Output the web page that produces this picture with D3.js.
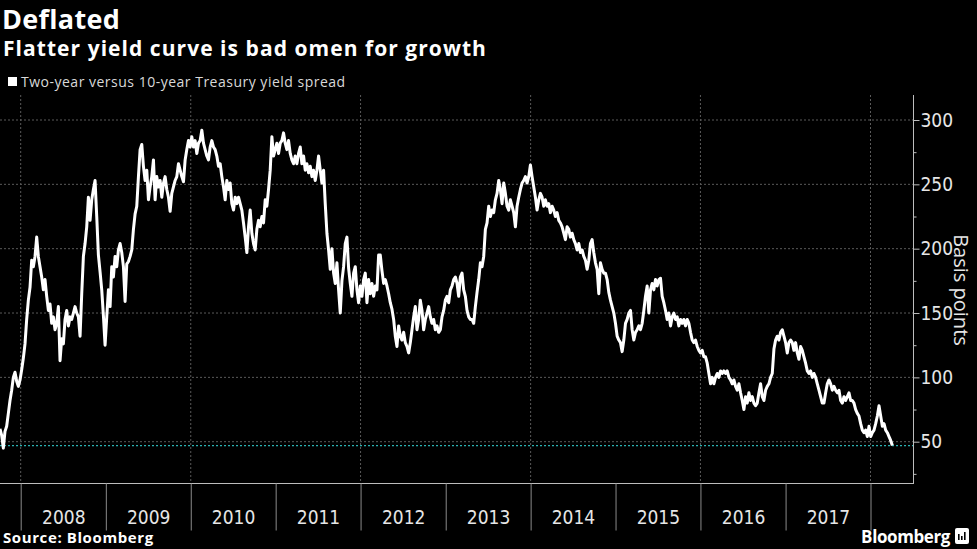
<!DOCTYPE html>
<html><head><meta charset="utf-8">
<script src="https://cdn.jsdelivr.net/npm/d3@7"></script>
<style>html,body{margin:0;padding:0;background:#000;} svg{display:block;}</style>
</head><body>
<svg id="chart" width="977" height="549"></svg>
<script>
// ---------- data ----------
const titleText = "Deflated";
const subtitleText = "Flatter yield curve is bad omen for growth";
const seriesName = "Two-year versus 10-year Treasury yield spread";
const yAxisTitle = "Basis points";
const sourceText = "Source: Bloomberg";
const brandText = "Bloomberg";
const yearLabels = ["2008","2009","2010","2011","2012","2013","2014","2015","2016","2017"];
const yTickValues = [50, 100, 150, 200, 250, 300];
const yMinorTickValues = [25, 75, 125, 175, 225, 275];
const gridYears = [2008, 2010, 2012, 2014, 2016, 2018];
const separatorYears = [2008, 2009, 2010, 2011, 2012, 2013, 2014, 2015, 2016, 2017, 2018];
const firstObservation = "2007-10-04";
const observationStepDays = 7.17;
const spread = [
 60,55,45,58,62,72,82,90,100,104, 97,93,98,106,115,126,145,160,170,191,
 186,194,209,194,186,178,168,176,163,152, 157,142,147,137,142,155,113,130,126,145,
 152,140,147,145,150,155,150,147,132,165, 194,204,217,240,222,238,246,253,225,195,
 182,168,148,125,147,168,155,186,178,194, 186,199,204,197,186,159,188,190,194,199,
 215,227,233,256,277,281,264,253,261,238, 248,
 256,269,238,256,248,253,240,251,256,246, 240,229,243,248,253,256,266,261,256,252,
 269,277,284,279,287,279,284,274,282,284, 292,282,277,272,269,279,284,279,277,272,
 264,266,256,248,238,253,246,251,235,230, 240,235,240,235,230,220,209,197,217,230,
 212,204,199,215,222,217,225,220,238,233, 246,261,287,272,277,282,274,282,284,290,
 282,277,284,274,269,266,272,
 266,274,279,266,272,261,266,259,264,256, 261,253,261,272,261,251,261,235,212,199,
 184,200,181,173,189,168,150,175,186,204, 209,185,173,163,181,186,168,158,171,163,
 176,181,158,176,165,173,163,171,168,195, 195,183,173,176,171,165,158,153,145,132,
 124,140,132,129,135,127,124,119,127,137, 147,155,137,145,160,152,137,145,150,155,
 147,142,145,137,140,135,137,
 147,152,160,163,158,168,171,176,178,173, 163,178,181,168,163,152,147,145,145,142,
 155,166,176,189,186,194,215,220,233,225, 230,228,238,243,253,246,235,251,243,233,
 230,238,233,228,217,233,240,246,251,253, 256,251,256,265,256,248,240,230,238,243,
 240,233,238,233,235,228,233,230,225,228, 222,220,217,212,207,217,215,209,212,207,
 204,199,204,197,199,194,191,
 184,191,204,207,197,189,184,165,189,184, 181,181,176,166,160,155,150,142,132,129,
 127,120,129,142,145,150,152,137,129,135, 137,140,137,142,152,163,171,150,168,173,
 168,176,171,176,177,163,158,152,145,150, 140,147,150,145,147,140,145,142,145,140,
 145,142,135,129,127,129,124,121,119,121, 116,116,111,103,95,100,95,100,103,100,
 105,103,105,103,105,100,98,
 95,98,93,90,95,88,82,75,85,80, 88,82,85,80,78,80,88,95,85,82,
 90,93,95,100,103,122,129,132,129,135, 137,132,127,119,127,129,127,121,127,119,
 114,124,121,116,111,105,103,105,100,103, 100,95,90,85,80,80,88,95,98,95,
 90,93,90,88,90,82,80,85,82,85, 88,82,82,80,75,72,70,64,59,57,
 59,54,62,54,57,59,64,70,78,70, 62,64,59,57,54,51,47
];

// ---------- layout ----------
const W = 977, H = 549;
const plotLeft = 0, plotRight = 913, plotTop = 95, plotBottom = 483;
const svg = d3.select("#chart");
svg.append("rect").attr("width", W).attr("height", H).attr("fill", "#000");

const parse = d3.utcParse("%Y-%m-%d");
const t0 = parse(firstObservation);
const data = spread.map((v, i) => ({ date: new Date(t0.getTime() + i * observationStepDays * 864e5), value: v }));

const x = d3.scaleUtc()
  .domain([new Date(Date.UTC(2008, 0, 1)), new Date(Date.UTC(2018, 0, 1))])
  .range([20.7, 870.5]);
const y = d3.scaleLinear().domain([50, 300]).range([441.7, 120]);

const gridColor = "#5a5a5a";
// horizontal grid
svg.append("g").selectAll("line").data(yTickValues).join("line")
  .attr("x1", plotLeft).attr("x2", plotRight)
  .attr("y1", d => y(d)).attr("y2", d => y(d))
  .attr("stroke", gridColor).attr("stroke-width", 1).attr("stroke-dasharray", "2,2");
// vertical grid
svg.append("g").selectAll("line").data(gridYears).join("line")
  .attr("x1", d => x(new Date(Date.UTC(d, 0, 1)))).attr("x2", d => x(new Date(Date.UTC(d, 0, 1))))
  .attr("y1", plotTop).attr("y2", plotBottom)
  .attr("stroke", gridColor).attr("stroke-width", 1).attr("stroke-dasharray", "2,2");

// last value marker line
const lastVal = spread[spread.length - 1];
svg.append("line")
  .attr("x1", plotLeft).attr("x2", plotRight)
  .attr("y1", y(lastVal)).attr("y2", y(lastVal))
  .attr("stroke", "#2bb3b3").attr("stroke-width", 1.3).attr("stroke-dasharray", "2,2");

// series line
svg.append("path").datum(data)
  .attr("fill", "none").attr("stroke", "#ffffff").attr("stroke-width", 3)
  .attr("stroke-linejoin", "round")
  .attr("d", d3.line().x(d => x(d.date)).y(d => y(d.value)));

// axes lines
const axisColor = "#bdbdbd";
svg.append("line").attr("x1", plotLeft).attr("x2", plotRight).attr("y1", plotBottom + 0.5).attr("y2", plotBottom + 0.5)
  .attr("stroke", axisColor).attr("stroke-width", 1);
svg.append("line").attr("x1", plotRight + 0.5).attr("x2", plotRight + 0.5).attr("y1", plotTop).attr("y2", plotBottom + 1)
  .attr("stroke", axisColor).attr("stroke-width", 1);

// right axis
const yAxis = d3.axisRight(y).tickValues(yTickValues).tickSize(6).tickPadding(1).tickFormat(d3.format("d"));
const ya = svg.append("g").attr("transform", `translate(${plotRight + 0.5},0)`).call(yAxis);
ya.select(".domain").remove();
ya.selectAll("line").attr("stroke", axisColor);
ya.selectAll("text").attr("fill", "#e6e6e6").attr("font-family", "'Liberation Sans Narrow','DejaVu Sans Condensed',sans-serif").attr("font-size", 19);
const yMinor = d3.axisRight(y).tickValues(yMinorTickValues).tickSize(3).tickFormat("");
const ym = svg.append("g").attr("transform", `translate(${plotRight + 0.5},0)`).call(yMinor);
ym.select(".domain").remove();
ym.selectAll("line").attr("stroke", axisColor);

svg.append("text").attr("transform", `translate(954,290) rotate(90)`)
  .attr("text-anchor", "middle").attr("fill", "#e6e6e6")
  .attr("font-family", "'Open Sans',sans-serif").attr("font-size", 20)
  .text(yAxisTitle);

// bottom axis: year separators
const sepAxis = d3.axisBottom(x).tickValues(separatorYears.map(yr => new Date(Date.UTC(yr, 0, 1)))).tickSize(47).tickFormat("");
const sa = svg.append("g").attr("transform", `translate(0,${plotBottom + 0.5})`).call(sepAxis);
sa.select(".domain").remove();
sa.selectAll("line").attr("stroke", "#8a8a8a");
// year labels centred in each year
const labAxis = d3.axisBottom(x).tickValues(yearLabels.map(s => new Date(Date.UTC(+s, 6, 2)))).tickSize(0).tickFormat(d3.utcFormat("%Y"));
const la = svg.append("g").attr("transform", `translate(0,${plotBottom})`).call(labAxis);
la.select(".domain").remove();
la.selectAll("text").attr("fill", "#e6e6e6").attr("font-family", "'Liberation Sans Narrow','DejaVu Sans Condensed',sans-serif")
  .attr("font-size", 19).attr("dy", 0).attr("y", 41);

// titles
svg.append("text").attr("x", 2).attr("y", 29).attr("fill", "#fff")
  .attr("font-family", "'Open Sans',sans-serif").attr("font-weight", "bold").attr("font-size", 27)
  .attr("letter-spacing", 0.3).text(titleText);
svg.append("text").attr("x", 3).attr("y", 56).attr("fill", "#fff")
  .attr("font-family", "'Open Sans',sans-serif").attr("font-weight", "bold").attr("font-size", 21)
  .attr("letter-spacing", 1.05).text(subtitleText);

// legend
svg.append("rect").attr("x", 8).attr("y", 77).attr("width", 9).attr("height", 9).attr("fill", "#fff");
svg.append("text").attr("x", 21).attr("y", 87).attr("fill", "#d9d9d9")
  .attr("font-family", "'Open Sans',sans-serif").attr("font-size", 14)
  .attr("letter-spacing", 0.5).text(seriesName);

// footer
svg.append("text").attr("x", 3).attr("y", 543).attr("fill", "#fff")
  .attr("font-family", "'Open Sans',sans-serif").attr("font-weight", "bold").attr("font-size", 15)
  .attr("letter-spacing", 0.6).text(sourceText);
svg.append("text").attr("x", 950).attr("y", 543).attr("text-anchor", "end").attr("fill", "#fff")
  .attr("font-family", "'Open Sans',sans-serif").attr("font-weight", "bold").attr("font-size", 17)
  .attr("letter-spacing", -0.4).text(brandText);
const logo = svg.append("g").attr("transform", "translate(955,528)");
logo.append("rect").attr("width", 14).attr("height", 16).attr("rx", 2).attr("fill", "#fff");
logo.selectAll("rect.bar").data([6, 4, 8]).join("rect").attr("class", "bar")
  .attr("x", (d, i) => 3 + i * 3).attr("y", d => 12 - d).attr("width", 1.6).attr("height", d => d).attr("fill", "#000");
</script>
</body></html>
